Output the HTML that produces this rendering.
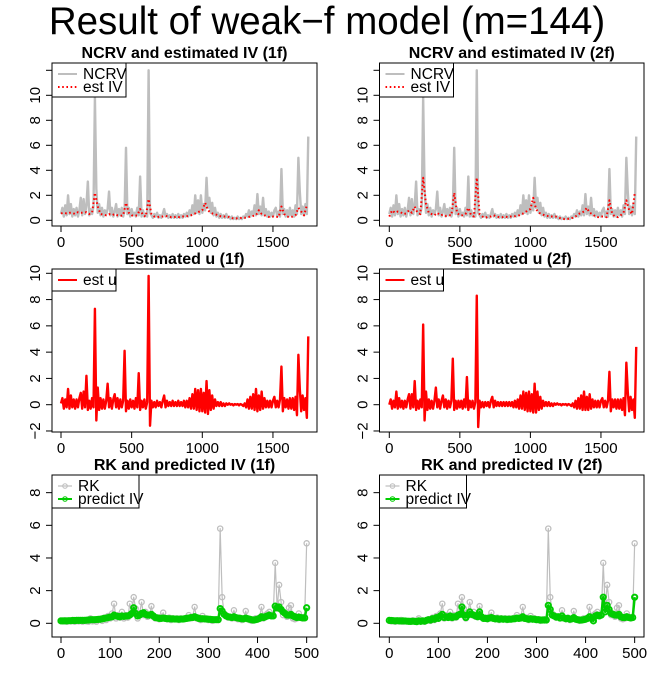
<!DOCTYPE html>
<html><head><meta charset="utf-8"><style>
html,body{margin:0;padding:0;background:#fff;}
svg{display:block;font-family:"Liberation Sans",sans-serif;}
</style></head><body>
<svg id="fig" width="654" height="681" viewBox="0 0 654 681">
<rect width="654" height="681" fill="#fff"/>
<text x="327" y="34" text-anchor="middle" font-size="38.5">Result of weak−f model (m=144)</text>
</svg>
<script>
// ---- data (NCRV, step 10, t = 0..1750) ----
const ncrv = [0.5,1.0,0.3,1.2,0.4,2.0,0.5,1.3,0.3,0.9,
0.4,1.0,0.3,0.8,1.8,0.4,1.7,0.5,1.2,3.1,
0.4,0.9,0.5,1.1,9.8,2.5,0.6,1.3,0.4,1.0,
0.3,0.8,0.5,0.9,2.3,0.4,1.0,0.3,0.7,1.3,
0.3,0.9,0.4,1.0,0.3,0.8,5.8,0.5,1.0,0.3,
0.9,0.4,0.6,0.3,1.0,0.4,3.5,0.3,0.8,0.3,
0.5,0.3,12.0,0.6,0.4,0.2,0.5,0.3,0.6,0.2,
0.4,0.2,0.5,0.9,0.3,0.5,0.2,0.4,0.2,0.5,
0.2,0.4,0.2,0.5,0.2,0.4,0.2,0.5,0.3,0.6,
0.3,0.8,0.4,1.2,0.5,2.0,0.6,1.6,0.5,2.0,
0.6,1.3,0.8,3.4,1.0,1.8,0.6,1.4,0.4,1.0,
0.3,0.6,0.2,0.5,0.2,0.4,0.2,0.5,0.2,0.3,
0.1,0.3,0.1,0.2,0.1,0.3,0.1,0.2,0.1,0.3,
0.2,0.5,0.3,0.8,0.3,0.7,0.4,1.2,0.4,2.1,
0.5,1.1,0.4,1.8,0.4,0.9,0.3,0.7,0.3,0.6,
0.3,0.8,1.0,0.3,0.7,0.3,4.1,0.5,0.9,0.3,
0.8,0.3,1.0,0.4,0.8,0.3,1.2,0.5,5.0,2.3,
0.5,1.1,0.4,1.3,0.5,6.7];
// ---- estimated IV (step 20, t = 0..1740) ----
const estIV1f = [0.55,0.6,0.55,0.6,0.6,0.5,0.65,0.6,0.6,0.65,
0.5,0.6,2.2,1.1,0.5,0.45,0.4,0.5,0.4,0.5,
0.4,0.35,0.4,1.4,0.6,0.4,0.35,0.4,0.9,0.4,
0.3,1.7,0.5,0.3,0.25,0.3,0.3,0.35,0.3,0.25,
0.25,0.3,0.25,0.3,0.3,0.35,0.4,0.5,0.6,0.7,
0.8,1.4,0.8,0.6,0.5,0.45,0.35,0.3,0.3,0.3,
0.2,0.15,0.15,0.15,0.2,0.2,0.25,0.3,0.35,0.4,
0.8,0.5,0.4,0.3,0.25,0.3,0.3,0.25,1.1,0.5,
0.3,0.25,0.3,0.4,1.0,0.7,0.4,1.2];
const estIV2f = [0.3,0.8,0.6,0.7,0.65,0.5,0.55,0.8,0.6,1.1,
0.6,0.5,3.4,1.3,0.6,0.5,0.4,0.6,0.4,0.45,
0.35,0.4,0.4,2.2,0.6,0.4,0.4,0.5,1.0,0.4,
0.3,3.4,0.5,0.3,0.2,0.3,0.3,0.4,0.3,0.25,
0.25,0.3,0.25,0.3,0.3,0.35,0.4,0.5,0.6,0.8,
0.9,1.8,0.9,0.6,0.5,0.4,0.35,0.3,0.3,0.3,
0.2,0.15,0.1,0.1,0.15,0.2,0.3,0.5,0.6,0.7,
1.0,0.6,0.5,0.3,0.25,0.3,0.3,0.25,1.6,0.5,
0.3,0.25,0.4,0.6,1.6,0.8,0.5,2.2];
// ---- estimated u (step 10, t = 0..1750) ----
const u1f = [0.1,0.5,-0.3,0.4,-0.2,1.2,-0.3,0.7,-0.2,0.4,
-0.3,0.4,-0.2,0.5,0.9,-0.3,1.0,-0.2,2.2,-0.4,
0.3,-0.3,0.5,-0.2,7.3,-1.2,1.3,-0.4,0.5,-0.3,
0.4,-0.3,0.3,1.6,-0.2,0.5,-0.3,0.4,0.8,-0.2,
0.5,-0.3,0.4,-0.2,0.3,4.1,-0.5,0.3,-0.3,0.4,
-0.2,0.3,-0.3,0.5,-0.2,2.4,-0.4,0.3,-0.2,0.4,
-0.3,0.2,9.8,-1.6,0.3,-0.2,0.2,-0.2,0.3,-0.1,
0.2,-0.2,0.3,0.7,-0.2,0.3,-0.1,0.2,-0.1,0.3,
-0.1,0.2,-0.1,0.3,-0.1,0.2,-0.1,0.3,-0.2,0.3,
-0.2,0.5,-0.3,0.8,-0.3,1.2,-0.4,1.1,-0.5,1.2,
-0.5,0.9,-0.6,1.8,-0.7,1.1,-0.4,0.7,-0.3,0.4,
-0.1,0.2,-0.1,0.2,-0.1,0.1,-0.1,0.1,0,0.1,
0,0.05,-0.05,0.05,0,0.05,-0.05,0.05,0,-0.1,
0.1,-0.2,0.4,-0.3,0.6,-0.3,0.8,-0.4,1.2,-0.5,
0.7,-0.4,1.0,-0.3,0.5,-0.2,0.3,-0.2,0.3,-0.2,
0.3,0.6,-0.2,0.3,-0.2,0.4,2.9,-0.5,0.5,-0.2,
0.4,-0.3,0.5,-0.3,0.5,-0.4,0.6,-0.8,3.8,1.2,
-0.5,0.7,-0.4,0.5,-1.0,5.2];
const u2f = [0.0,0.4,-0.3,0.3,-0.2,1.0,-0.3,0.5,-0.2,0.3,
-0.3,0.3,-0.2,0.4,0.8,-0.3,0.8,-0.2,1.8,-0.4,
0.3,-0.3,0.4,-0.2,6.1,-1.2,1.0,-0.4,0.4,-0.3,
0.3,-0.3,0.3,1.3,-0.2,0.4,-0.3,0.3,0.7,-0.2,
0.4,-0.3,0.3,-0.2,0.3,3.5,-0.4,0.3,-0.3,0.3,
-0.2,0.3,-0.3,0.4,-0.2,2.1,-0.4,0.3,-0.2,0.3,
-0.3,0.2,8.3,-1.7,0.3,-0.2,0.2,-0.2,0.2,-0.1,
0.2,-0.2,0.3,0.6,-0.2,0.3,-0.1,0.2,-0.1,0.2,
-0.1,0.2,-0.1,0.2,-0.1,0.2,-0.1,0.2,-0.2,0.3,
-0.2,0.4,-0.3,0.7,-0.3,1.0,-0.4,0.9,-0.5,1.0,
-0.5,0.8,-0.6,1.6,-0.6,1.0,-0.4,0.6,-0.3,0.3,
-0.1,0.2,-0.1,0.2,-0.1,0.1,-0.1,0.1,0,0.1,
0,0.05,-0.05,0.05,0,0.05,-0.05,0.05,0,-0.1,
0.1,-0.2,0.3,-0.3,0.5,-0.3,0.7,-0.4,1.0,-0.4,
0.6,-0.4,0.8,-0.3,0.4,-0.2,0.3,-0.2,0.3,-0.2,
0.3,0.5,-0.2,0.3,-0.2,0.3,2.5,-0.5,0.4,-0.2,
0.4,-0.3,0.4,-0.3,0.4,-0.4,0.5,-0.8,3.2,1.0,
-0.5,0.6,-0.4,0.4,-1.0,4.4];
// ---- RK and predicted IV (step 4, t = 0..500) ----
const rk = [0.15,0.12,0.18,0.1,0.15,0.12,0.2,0.1,0.15,0.12,
0.15,0.1,0.18,0.12,0.1,0.3,0.12,0.15,0.1,0.2,
0.25,0.15,0.35,0.2,0.45,0.3,0.6,1.2,0.3,0.5,
0.35,0.7,0.3,0.5,0.35,1.2,0.6,1.6,0.9,0.3,
0.6,1.3,0.5,0.7,0.4,0.5,1.05,0.4,0.3,0.35,
0.25,0.4,0.65,0.3,0.25,0.35,0.2,0.3,0.25,0.3,
0.2,0.3,0.25,0.3,0.35,0.5,0.3,0.4,1.0,0.3,
0.35,0.2,0.45,0.25,0.3,0.2,0.25,0.15,0.2,0.25,
0.2,5.8,1.6,0.6,0.5,0.35,0.4,0.3,0.8,0.3,
0.25,0.35,0.2,0.3,0.75,0.25,0.2,0.15,0.2,0.3,
0.25,0.35,1.0,0.3,0.5,0.6,0.7,0.45,0.5,3.7,
0.9,2.35,1.3,0.5,0.6,0.4,0.95,1.1,0.3,0.25,
0.3,0.6,0.35,0.3,0.4,4.9];
const pred1f = [0.15,0.15,0.15,0.15,0.16,0.16,0.17,0.17,0.18,0.18,
0.18,0.18,0.18,0.19,0.2,0.22,0.22,0.22,0.23,0.24,
0.25,0.27,0.3,0.32,0.35,0.38,0.4,0.5,0.45,0.42,
0.4,0.45,0.42,0.45,0.45,0.5,0.6,0.95,0.6,0.45,
0.5,0.6,0.65,0.55,0.5,0.5,0.55,0.45,0.35,0.33,
0.3,0.3,0.32,0.3,0.28,0.28,0.27,0.27,0.26,0.26,
0.25,0.26,0.26,0.28,0.3,0.32,0.35,0.35,0.4,0.35,
0.3,0.28,0.28,0.27,0.26,0.25,0.24,0.23,0.22,0.22,
0.22,0.9,0.75,0.55,0.45,0.4,0.38,0.35,0.4,0.35,
0.32,0.3,0.28,0.27,0.32,0.28,0.25,0.22,0.2,0.22,
0.25,0.3,0.4,0.35,0.4,0.45,0.5,0.45,0.45,1.05,
0.95,1.0,0.85,0.7,0.6,0.5,0.5,0.55,0.45,0.4,
0.35,0.38,0.35,0.33,0.33,0.95];
const pred2f = [0.18,0.17,0.16,0.15,0.16,0.15,0.14,0.15,0.14,0.13,
0.12,0.12,0.13,0.12,0.1,0.15,0.12,0.15,0.13,0.18,
0.22,0.2,0.28,0.25,0.35,0.3,0.45,0.55,0.35,0.4,
0.35,0.45,0.35,0.4,0.4,0.5,0.55,1.0,0.5,0.35,
0.5,0.7,0.55,0.5,0.45,0.4,0.7,0.4,0.3,0.3,
0.28,0.32,0.35,0.3,0.27,0.28,0.25,0.27,0.25,0.26,
0.24,0.25,0.25,0.27,0.28,0.32,0.3,0.32,0.4,0.3,
0.28,0.25,0.28,0.25,0.25,0.22,0.22,0.2,0.2,0.2,
0.2,1.1,0.85,0.5,0.45,0.38,0.4,0.32,0.45,0.32,
0.28,0.3,0.25,0.27,0.35,0.25,0.22,0.2,0.2,0.22,
0.25,0.3,0.4,0.3,0.15,0.45,0.5,0.45,0.5,1.6,
0.7,1.1,0.85,0.6,0.55,0.5,0.5,0.55,0.4,0.35,
0.35,0.4,0.35,0.33,0.35,1.6];

const NS = "http://www.w3.org/2000/svg";
const svg = document.getElementById('fig');
function mk(tag, attrs, parent){
  const e = document.createElementNS(NS, tag);
  for (const k in attrs) e.setAttribute(k, attrs[k]);
  (parent||svg).appendChild(e);
  return e;
}
function pathFrom(vals, step, sx, sy){
  let d = '';
  vals.forEach((v,i)=>{ d += (i?'L':'M') + sx(i*step).toFixed(2) + ' ' + sy(v).toFixed(2); });
  return d;
}

function panel(cfg){
  const g = mk('g', {});
  
  
  const sx = t => cfg.x0 + t*cfg.kx;
  const sy = v => cfg.y0 - v*cfg.ky;
  const tt = mk('text', {x:(cfg.bx1+cfg.bx2)/2, y:cfg.by1-5, 'text-anchor':'middle', 'font-size':'16', 'font-weight':'bold'}, g);
  tt.textContent = cfg.title;
  
  
  const cid = 'c' + cfg.name;
  const cp = mk('clipPath', {id:cid}, g);
  mk('rect', {x:cfg.bx1, y:cfg.by1, width:cfg.bx2-cfg.bx1, height:cfg.by2-cfg.by1}, cp);
  const plot = mk('g', {'clip-path':'url(#'+cid+')'}, g);
  cfg.series.forEach(s => {
    const p = mk('path', {d:pathFrom(s.vals, s.step, sx, sy), fill:'none', stroke:s.color, 'stroke-width':s.w, 'stroke-linejoin':'round'}, plot);
    if (s.dash) p.setAttribute('stroke-dasharray', s.dash);
    
    
    if (s.pts) {
      s.vals.forEach((v,i) => {
        const c = mk('circle', {cx:sx(i*s.step), cy:sy(v), r:2.6, fill:'none', stroke:s.color, 'stroke-width':s.cw}, plot);
        
        
      });
    }
  });
  const box = mk('rect', {x:cfg.bx1, y:cfg.by1, width:cfg.bx2-cfg.bx1, height:cfg.by2-cfg.by1, fill:'none', stroke:'#000', 'stroke-width':1}, g);
  
  
  const xa = mk('g', {}, g);
  
  
  mk('line', {x1:sx(cfg.xt[0]), x2:sx(cfg.xt[cfg.xt.length-1]), y1:cfg.by2, y2:cfg.by2, stroke:'#000'}, xa);
  cfg.xt.forEach(t => {
    mk('line', {x1:sx(t), x2:sx(t), y1:cfg.by2, y2:cfg.by2+6, stroke:'#000'}, xa);
    const l = mk('text', {x:sx(t), y:cfg.by2+21, 'text-anchor':'middle', 'font-size':'15'}, xa);
    l.textContent = t;
    
    
  });
  const ya = mk('g', {}, g);
  
  
  mk('line', {x1:cfg.bx1, x2:cfg.bx1, y1:sy(cfg.yt[0]), y2:sy(cfg.yt[cfg.yt.length-1]), stroke:'#000'}, ya);
  cfg.yt.forEach(v => {
    mk('line', {x1:cfg.bx1-6, x2:cfg.bx1, y1:sy(v), y2:sy(v), stroke:'#000'}, ya);
    if (cfg.ylab.indexOf(v) >= 0) {
      const lx = cfg.bx1-12, ly = sy(v);
      const l = mk('text', {x:lx, y:ly, 'text-anchor':'middle', 'font-size':'15', transform:'rotate(-90 '+lx+' '+ly+')'}, ya);
      l.textContent = String(v).replace('-', '−');
      
      
    }
  });
  const lg = mk('g', {}, g);
  
  
  mk('rect', {x:cfg.bx1, y:cfg.by1, width:cfg.legW, height:cfg.legH, fill:'#fff', stroke:'#000'}, lg);
  cfg.series.forEach((s,i) => {
    const yy = cfg.by1 + 11 + i*13;
    const e = mk('g', {}, lg);
    
    
    const ln = mk('line', {x1:cfg.bx1+6, x2:cfg.bx1+cfg.legLine, y1:yy, y2:yy, stroke:s.color, 'stroke-width':Math.min(s.w,2)}, e);
    if (s.dash) ln.setAttribute('stroke-dasharray', s.dash);
    if (s.pts) mk('circle', {cx:cfg.bx1+6+(cfg.legLine-6)/2, cy:yy, r:2.3, fill:'none', stroke:s.color}, e);
    const t = mk('text', {x:cfg.bx1+cfg.legLine+6, y:yy+5, 'font-size':'15.5'}, e);
    t.textContent = s.label;
  });
}

const X_TOP = [0,500,1000,1500];
const X_BOT = [0,100,200,300,400,500];
const cols = [{x0:61, k1:0.1413, k3:0.4913, bx1:52, bx2:317, tag:'1f'},
              {x0:389.3, k1:0.1411, k3:0.4907, bx1:379.5, bx2:644, tag:'2f'}];
cols.forEach((c,ci) => {
  panel({name:'ncrv-panel-'+c.tag, title:'NCRV and estimated IV ('+c.tag+')',
    bx1:c.bx1, bx2:c.bx2, by1:63, by2:226, x0:c.x0, kx:c.k1, y0:220.3, ky:12.5,
    xt:X_TOP, yt:[0,2,4,6,8,10,12], ylab:[0,2,4,6,8,10], legW:74, legH:34, legLine:25,
    series:[{name:'ncrv-line', label:'NCRV', vals:ncrv, step:10, color:'#bebebe', w:2.4},
            {name:'est-iv-line', label:'est IV', vals:ci?estIV2f:estIV1f, step:20, color:'#ff0000', w:2, dash:'1.6 2.6'}]});
  panel({name:'u-panel-'+c.tag, title:'Estimated u ('+c.tag+')',
    bx1:c.bx1, bx2:c.bx2, by1:269, by2:432, x0:c.x0, kx:c.k1, y0:404.7, ky:13.14,
    xt:X_TOP, yt:[-2,0,2,4,6,8,10], ylab:[-2,0,2,4,6,8,10], legW:64, legH:22, legLine:25,
    series:[{name:'est-u-line', label:'est u', vals:ci?u2f:u1f, step:10, color:'#ff0000', w:2.4}]});
  panel({name:'rk-panel-'+c.tag, title:'RK and predicted IV ('+c.tag+')',
    bx1:c.bx1, bx2:c.bx2, by1:475, by2:637, x0:c.x0, kx:c.k3, y0:623.3, ky:16.33,
    xt:X_BOT, yt:[0,2,4,6,8], ylab:[0,2,4,6,8], legW:87, legH:33, legLine:20,
    series:[{name:'rk-line', label:'RK', vals:rk, step:4, color:'#bebebe', w:1.2, pts:true, cw:1.3},
            {name:'predict-iv-line', label:'predict IV', vals:ci?pred2f:pred1f, step:4, color:'#00cc00', w:2.5, pts:true, cw:2}]});
});
</script>
</body></html>
